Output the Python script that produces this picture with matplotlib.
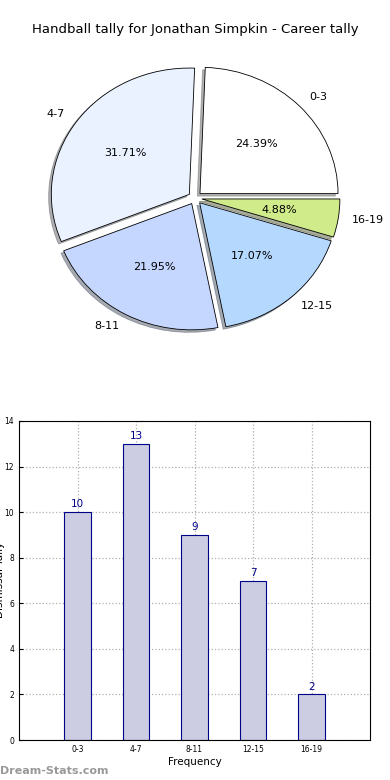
import matplotlib
matplotlib.use("Agg")
import matplotlib.pyplot as plt
import numpy as np

categories = ["0-3", "4-7", "8-11", "12-15", "16-19"]
counts = [10, 13, 9, 7, 2]
pie_colors = ["#ffffff", "#eaf1ff", "#c5d7ff", "#b5d8ff", "#d0eb8a"]
title = "Handball tally for Jonathan Simpkin - Career tally"

fig = plt.figure(figsize=(3.9, 7.8), dpi=100)

# pie (the reference one is a little wider than tall)
ax1 = fig.add_axes([27 / 390, 414 / 780, 336 / 390, 336 / 780])
ax1.pie(counts, labels=categories, colors=pie_colors, autopct="%.2f%%",
        explode=[0.05] * len(counts),
        shadow={"ox": -0.014, "oy": -0.014, "shade": 0.6}, startangle=0,
        pctdistance=0.57, labeldistance=1.1,
        wedgeprops={"edgecolor": "black", "linewidth": 0.6},
        textprops={"fontsize": 8})
ax1.set_aspect("auto")
ax1.set_xlim(-1.217, 1.217)
ax1.set_ylim(-1.33, 1.33)
ax1.axis("off")
fig.text(0.5, 1 - 30 / 780, title, ha="center", va="center", fontsize=9.5)

# bars
ax2 = fig.add_axes([19 / 390, 40 / 780, 351 / 390, 319 / 780])
x = np.arange(len(categories))
ax2.bar(x, counts, width=0.45, color="#ccccE2", edgecolor="#00008b",
        linewidth=0.8, zorder=2)
for xi, c in zip(x, counts):
    ax2.text(xi, c + 0.12, str(c), ha="center", va="bottom",
             fontsize=7.5, color="#00008b")
ax2.set_xlim(-1, 5)
ax2.set_ylim(0, 14)
ax2.set_xticks(x)
ax2.set_xticklabels(categories)
ax2.set_yticks(np.arange(0, 15, 2))
ax2.tick_params(labelsize=5.5, length=3, direction="in")
ax2.grid(True, linestyle=":", color="#b0b0b0", linewidth=0.9, zorder=0)
ax2.set_xlabel("Frequency", fontsize=7.5, labelpad=2)
fig.text(-0.012, 1 - 580 / 780, "Dismissal Tally",
         rotation=90, ha="left", va="center", fontsize=7.5)

fig.text(0.0, 1 - 771 / 780, "Dream-Stats.com", ha="left", va="center",
         fontsize=8, color="#999999", fontweight="bold")

fig.savefig("out.png", dpi=100)
